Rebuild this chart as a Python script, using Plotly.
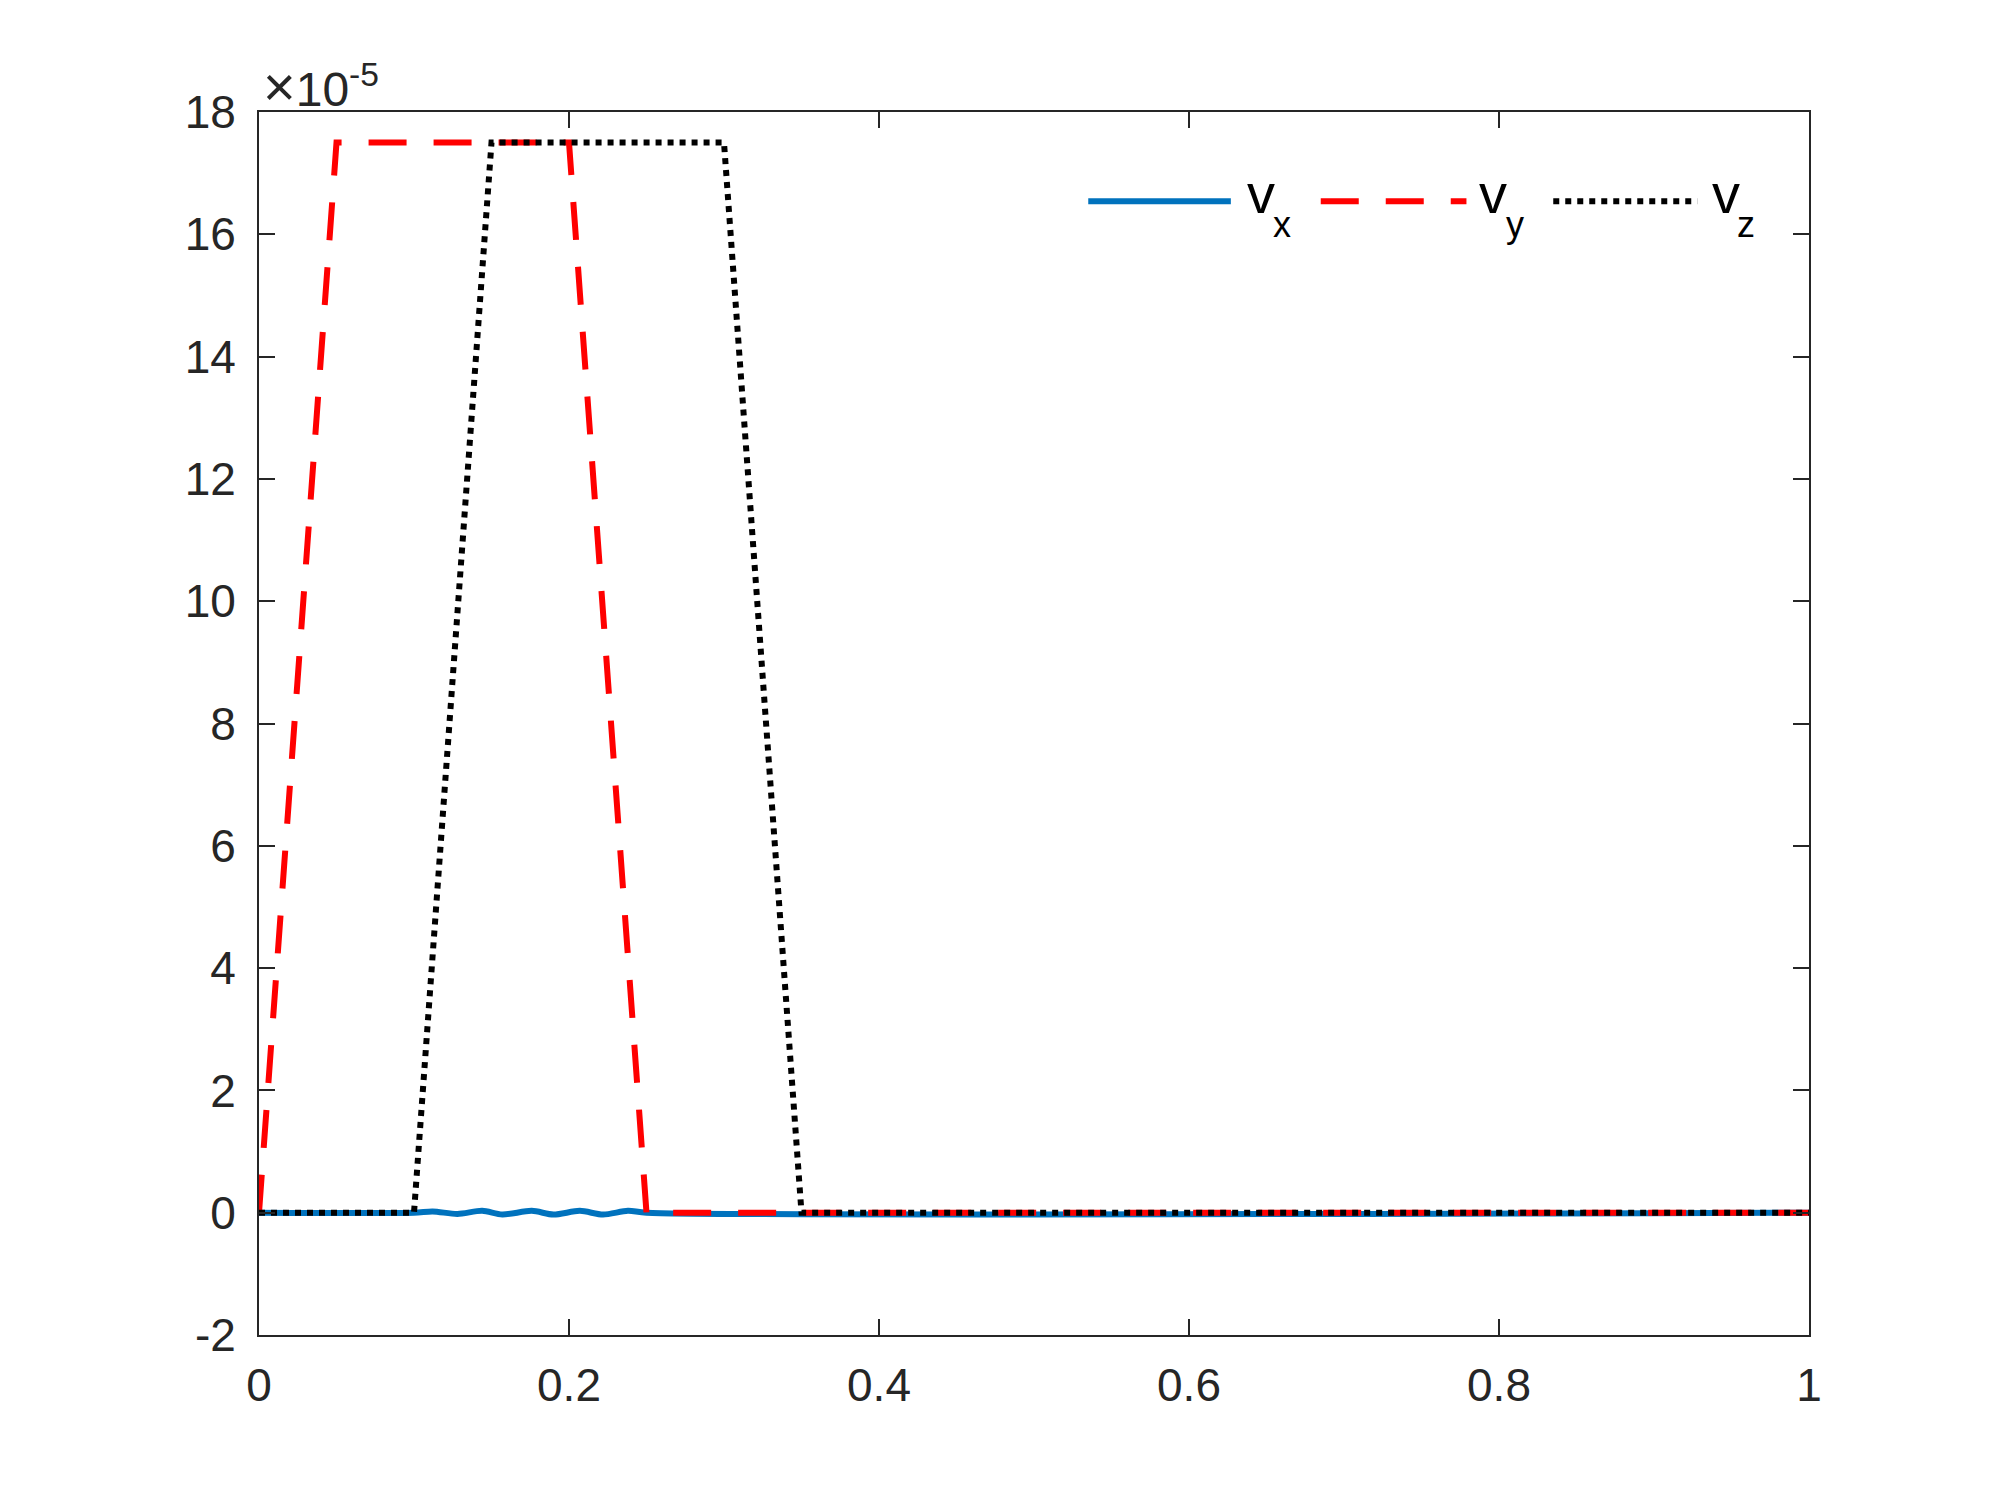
import plotly.graph_objects as go

# data (velocity values given in units of 1e-5)
x_vx = [0, 0.1, 0.112, 0.128, 0.144, 0.157, 0.176, 0.190, 0.207, 0.222, 0.238, 0.25, 1]
vx = [0, 0, 0.02, -0.02, 0.03, -0.03, 0.03, -0.03, 0.03, -0.03, 0.03, 0, 0]

x_vy = [0, 0.05, 0.2, 0.25, 1]
vy = [0, 17.5, 17.5, 0, 0]

x_vz = [0, 0.1, 0.15, 0.3, 0.35, 1]
vz = [0, 0, 17.5, 17.5, 0, 0]

x_ticks = [0, 0.2, 0.4, 0.6, 0.8, 1]
x_ticklabels = ["0", "0.2", "0.4", "0.6", "0.8", "1"]
y_ticks = [-2, 0, 2, 4, 6, 8, 10, 12, 14, 16, 18]
y_ticklabels = ["-2", "0", "2", "4", "6", "8", "10", "12", "14", "16", "18"]

COLOR_VX = "#0072BD"
COLOR_VY = "#FF0000"
COLOR_VZ = "#000000"
COLOR_AX = "#262626"
FONT_FAMILY = "Liberation Sans, Arial"
SIZE_TEXT = 46
LW = 6

fig = go.Figure()

fig.add_trace(go.Scatter(
    x=x_vx, y=vx, mode="lines", name="vx",
    line=dict(color=COLOR_VX, width=LW, shape="spline", smoothing=0.8),
))
fig.add_trace(go.Scatter(
    x=x_vy, y=vy, mode="lines", name="vy",
    line=dict(color=COLOR_VY, width=LW, dash="38px,27px"),
))
fig.add_trace(go.Scatter(
    x=x_vz, y=vz, mode="lines", name="vz",
    line=dict(color=COLOR_VZ, width=LW, dash="6px,6px"),
))

# legend drawn by hand (long line samples like the original)
# (line x0, line x1, colour, dash, "v" left, subscript left, subscript)
legend_items = [
    (0.535, 0.627, COLOR_VX, "solid", 0.636, 0.653, "x"),
    (0.685, 0.779, COLOR_VY, "38px,27px", 0.786, 0.803, "y"),
    (0.835, 0.928, COLOR_VZ, "6px,6px", 0.936, 0.952, "z"),
]
LEG_Y = 0.927
for x0, x1, col, dash, xv, xs, sub in legend_items:
    fig.add_shape(type="line", xref="paper", yref="paper",
                  x0=x0, x1=x1, y0=LEG_Y, y1=LEG_Y,
                  line=dict(color=col, width=LW, dash=dash))
    fig.add_annotation(xref="paper", yref="paper", x=xv, y=0.933,
                       xanchor="left", yanchor="middle", showarrow=False,
                       text="v", font=dict(size=56, color="#000000", family=FONT_FAMILY))
    fig.add_annotation(xref="paper", yref="paper", x=xs, y=0.908,
                       xanchor="left", yanchor="middle", showarrow=False,
                       text=sub, font=dict(size=36, color="#000000", family=FONT_FAMILY))

# exponent label
fig.add_annotation(xref="paper", yref="paper", x=0, y=1, xanchor="left", yanchor="bottom",
                   xshift=2, yshift=-8, showarrow=False,
                   text="<span style='font-size:56px'>\u00d7</span>10<sup>-5</sup>",
                   font=dict(size=48, color=COLOR_AX, family=FONT_FAMILY))

axis_common = dict(
    showgrid=False, zeroline=False,
    showline=True, linecolor=COLOR_AX, linewidth=2, mirror="ticks",
    ticks="inside", ticklen=16, tickwidth=2, tickcolor=COLOR_AX,
    tickfont=dict(size=SIZE_TEXT, color=COLOR_AX, family=FONT_FAMILY),
)

fig.update_layout(
    width=2000, height=1501,
    margin=dict(l=251, r=199, t=104, b=174),
    paper_bgcolor="white", plot_bgcolor="white",
    showlegend=False,
    xaxis=dict(range=[0, 1], tickvals=x_ticks, ticktext=x_ticklabels,
               ticklabelstandoff=9, **axis_common),
    yaxis=dict(range=[-2, 18], tickvals=y_ticks, ticktext=y_ticklabels,
               ticklabelstandoff=12, **axis_common),
    font=dict(family=FONT_FAMILY, size=SIZE_TEXT, color=COLOR_AX),
)

fig.write_html("out.html")
